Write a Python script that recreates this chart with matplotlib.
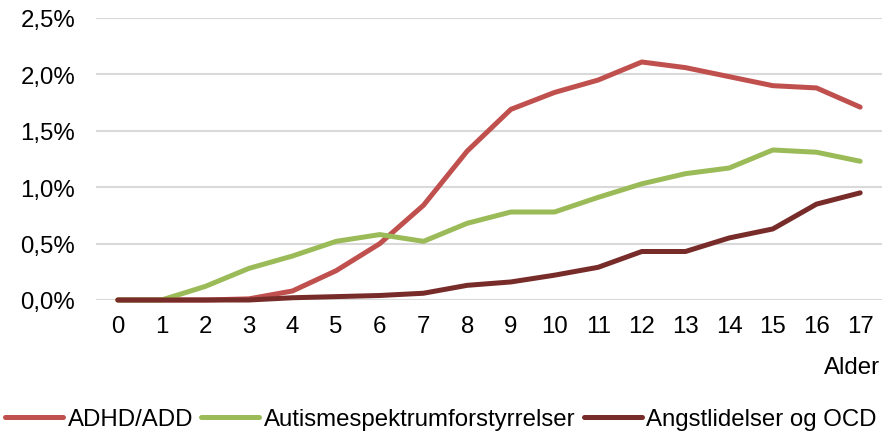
import matplotlib
matplotlib.use("Agg")
import matplotlib.pyplot as plt

ages = list(range(18))
adhd = [0.0, 0.0, 0.0, 0.01, 0.08, 0.26, 0.50, 0.84, 1.32, 1.69, 1.84, 1.95, 2.11, 2.06, 1.98, 1.90, 1.88, 1.71]
autism = [0.0, 0.0, 0.12, 0.28, 0.39, 0.52, 0.58, 0.52, 0.68, 0.78, 0.78, 0.91, 1.03, 1.12, 1.17, 1.33, 1.31, 1.23]
anxiety = [0.0, 0.0, 0.0, 0.0, 0.02, 0.03, 0.04, 0.06, 0.13, 0.16, 0.22, 0.29, 0.43, 0.43, 0.55, 0.63, 0.85, 0.95]
series_names = ["ADHD/ADD", "Autismespektrumforstyrrelser", "Angstlidelser og OCD"]
colors = ["#c0504d", "#9bbb59", "#772c2a"]
y_ticks = [0.0, 0.5, 1.0, 1.5, 2.0, 2.5]
y_tick_labels = ["0,0%", "0,5%", "1,0%", "1,5%", "2,0%", "2,5%"]
x_label = "Alder"

plt.rcParams['font.family'] = ['Liberation Sans', 'DejaVu Sans']
fs = 17.3

fig = plt.figure(figsize=(8.82, 4.39), dpi=100)
ax = fig.add_axes([96/882, 1-301/439, 1-96/882, (301-19)/439])

for vals, name, c in zip([adhd, autism, anxiety], series_names, colors):
    ax.plot(ages, vals, color=c, lw=3.6, solid_capstyle='round', solid_joinstyle='round', label=name, clip_on=False)

ax.set_xlim(-0.5, 17.5)
ax.set_ylim(0, 2.5)
ax.set_yticks(y_ticks)
ax.set_yticklabels(y_tick_labels)
ax.set_xticks(ages)
ax.set_xticklabels([str(a) for a in ages])
ax.tick_params(axis='both', length=0, labelsize=fs, colors='#000000')
ax.tick_params(axis='y', pad=15)
ax.tick_params(axis='x', pad=11)
ax.grid(axis='y', color='#d9d9d9', lw=1.5)
ax.set_axisbelow(True)
for s in ax.spines.values():
    s.set_visible(False)

fig.text(880/882, 1-368/439, x_label, ha='right', va='center', fontsize=fs)

fig.legend(loc='center', bbox_to_anchor=(0.5, 1-420/439), ncol=3, frameon=False,
           fontsize=fs, handlelength=2.4, handletextpad=0.2, columnspacing=0.35, borderpad=0)

fig.savefig("out.png", dpi=100)
